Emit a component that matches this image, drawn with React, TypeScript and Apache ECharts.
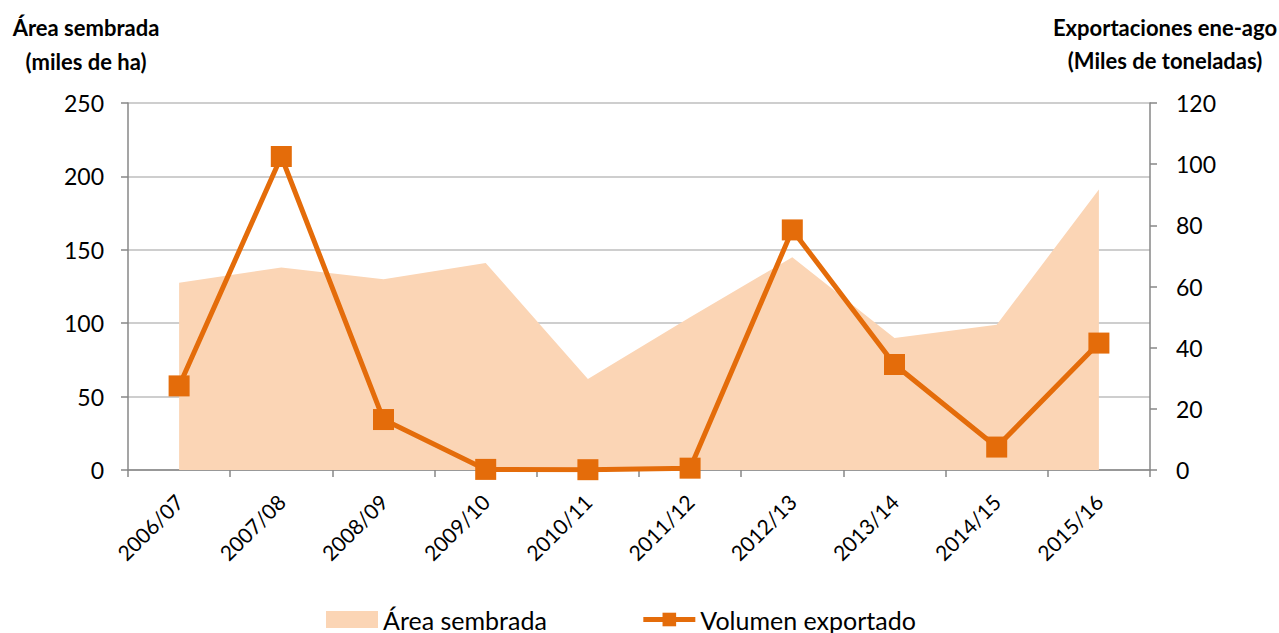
import React, { useEffect, useRef } from "react";
import * as echarts from "echarts";

const categories = ["2006/07", "2007/08", "2008/09", "2009/10", "2010/11", "2011/12", "2012/13", "2013/14", "2014/15", "2015/16"];
const areaSembrada = [127.5, 138, 130, 141, 62, 104, 145, 90, 99, 191];
const volumenExportado = [27.5, 102.5, 16.5, 0.2, 0.1, 0.6, 78.5, 34.5, 7.5, 41.5];
const leftTicks = { min: 0, max: 250, interval: 50 };
const rightTicks = { min: 0, max: 120, interval: 20 };

const FONT = "Lato, 'Open Sans', sans-serif";
const AXIS_COLOR = "#878787";
const ORANGE = "#E46C0A";
const PEACH = "#FBD5B5";

const titleText = (text: string, x: number, y: number) => ({
  type: "text",
  x,
  y,
  style: {
    text,
    font: `bold 22px ${FONT}`,
    fill: "#000",
    align: "center",
    verticalAlign: "middle",
  },
});

export default function App() {
  const ref = useRef<HTMLDivElement>(null);
  useEffect(() => {
    document.body.style.margin = "0";
    document.body.style.overflow = "hidden";
    if (!ref.current) return;
    const chart = echarts.init(ref.current, undefined, { renderer: "svg" });
    chart.setOption({
      animation: false,
      textStyle: { fontFamily: FONT },
      grid: { left: 128, right: 129, top: 103, bottom: 163, containLabel: false },
      graphic: [
        titleText("Área sembrada", 86, 27),
        titleText("(miles de ha)", 86, 61),
        titleText("Exportaciones ene-ago", 1165, 27),
        titleText("(Miles de toneladas)", 1165, 60),
      ],
      legend: {
        top: 607,
        left: 326,
        padding: 0,
        itemGap: 94,
        itemWidth: 52,
        itemHeight: 17,
        textStyle: { fontSize: 25, color: "#000", fontFamily: FONT },
        data: [
          { name: "Área sembrada", icon: "rect" },
          { name: "Volumen exportado", lineStyle: { width: 5 } },
        ],
      },
      xAxis: {
        type: "category",
        data: categories,
        boundaryGap: true,
        axisLine: { lineStyle: { color: AXIS_COLOR, width: 1.5 } },
        axisTick: { show: true, length: 7, lineStyle: { color: AXIS_COLOR, width: 1.5 } },
        axisLabel: { rotate: 45, fontSize: 21, color: "#000", margin: 28, fontFamily: FONT },
      },
      yAxis: [
        {
          type: "value",
          ...leftTicks,
          position: "left",
          axisLine: { show: true, lineStyle: { color: AXIS_COLOR, width: 1.5 } },
          axisTick: { show: true, length: 7, lineStyle: { color: AXIS_COLOR, width: 1.5 } },
          axisLabel: { fontSize: 23, color: "#000", margin: 24, fontFamily: FONT },
          splitLine: { show: true, lineStyle: { color: "#BEBEBE", width: 1.5 } },
        },
        {
          type: "value",
          ...rightTicks,
          position: "right",
          axisLine: { show: true, lineStyle: { color: AXIS_COLOR, width: 1.5 } },
          axisTick: { show: true, length: 7, lineStyle: { color: AXIS_COLOR, width: 1.5 } },
          axisLabel: { fontSize: 23, color: "#000", margin: 26, fontFamily: FONT },
          splitLine: { show: false },
        },
      ],
      series: [
        {
          name: "Área sembrada",
          type: "line",
          data: areaSembrada,
          yAxisIndex: 0,
          symbol: "none",
          color: PEACH,
          lineStyle: { width: 0, opacity: 0 },
          areaStyle: { color: PEACH, opacity: 1 },
          z: 1,
        },
        {
          name: "Volumen exportado",
          type: "line",
          data: volumenExportado,
          yAxisIndex: 1,
          symbol: "rect",
          symbolSize: 21,
          color: ORANGE,
          lineStyle: { color: ORANGE, width: 5 },
          itemStyle: { color: ORANGE },
          z: 3,
        },
      ],
    });
    return () => chart.dispose();
  }, []);
  return (
    <div
      ref={ref}
      style={{ position: "absolute", left: 0, top: 0, width: 1279, height: 633 }}
    />
  );
}
